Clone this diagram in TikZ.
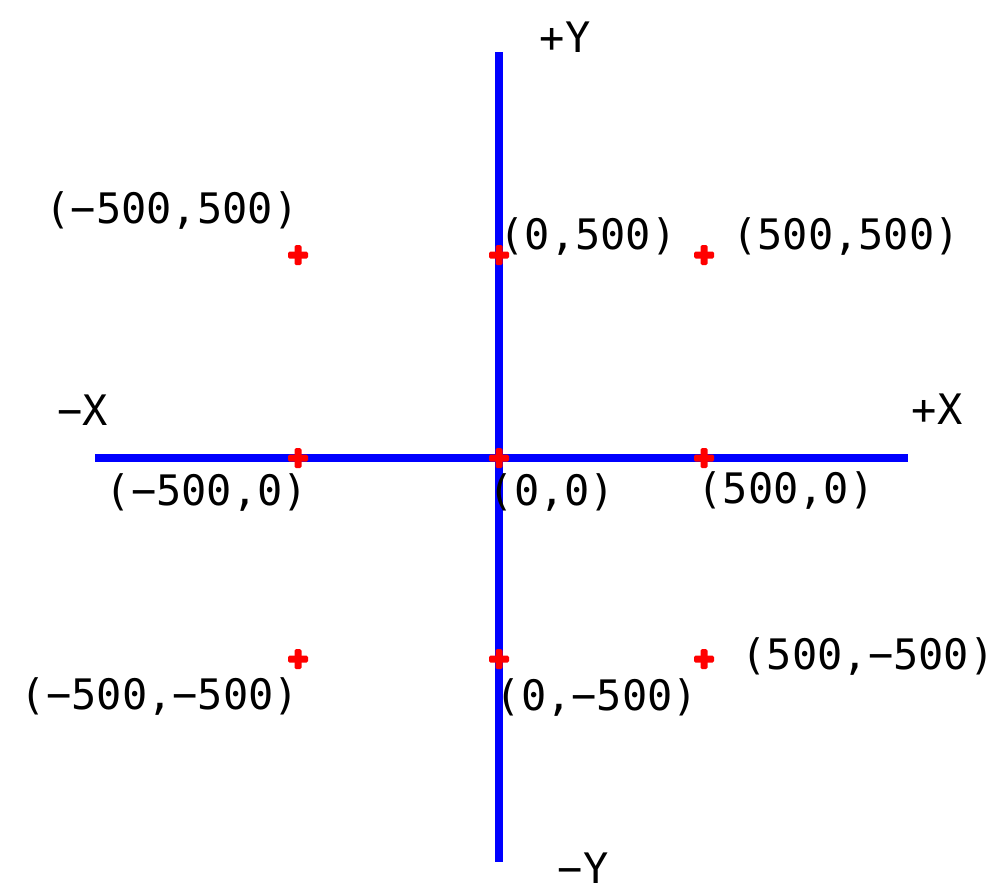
\documentclass[tikz,border=0pt]{standalone}
\usepackage{fontspec}
\setmonofont{DejaVu Sans Mono}
\tikzset{
  axis/.style={draw=blue, line width=8pt},
  lbl/.style={font=\ttfamily\fontsize{42}{42}\selectfont, inner sep=0pt, text=black},
  redplus/.pic={\fill[red, rounded corners=1.5pt] (-10,-3.5) rectangle (10,3.5); \fill[red, rounded corners=1.5pt] (-3.5,-10) rectangle (3.5,10);}
}
\begin{document}
\begin{tikzpicture}[x=1pt,y=-1pt]
\useasboundingbox (0,0) rectangle (1003,895);
\coordinate (xl) at (95,458);
\coordinate (xr) at (908,458);
\coordinate (yt) at (499,52);
\coordinate (yb) at (499,862);
\draw[axis] (xl) -- (xr);
\draw[axis] (yt) -- (yb);
\foreach \x/\y [count=\i] in {298/255,499/255,704/255,298/458,499/458,704/458,298/659,499/659,704/659}
  \pic at (\x,\y) {redplus};
\node[lbl] (py) at (565,37) {+Y};
\node[lbl] (ny) at (583,868) {−Y};
\node[lbl] (nx) at (83,410) {−X};
\node[lbl] (px) at (937,409) {+X};
\node[lbl] (a) at (172,211) {(−500,500)};
\node[lbl] (b) at (588,237) {(0,500)};
\node[lbl] (c) at (846,237) {(500,500)};
\node[lbl] (d) at (207,492) {(−500,0)};
\node[lbl] (e) at (552,492) {(0,0)};
\node[lbl] (f) at (786,490) {(500,0)};
\node[lbl] (g) at (160,696) {(−500,−500)};
\node[lbl] (h) at (597,697) {(0,−500)};
\node[lbl] (k) at (868,656) {(500,−500)};
\end{tikzpicture}
\end{document}
